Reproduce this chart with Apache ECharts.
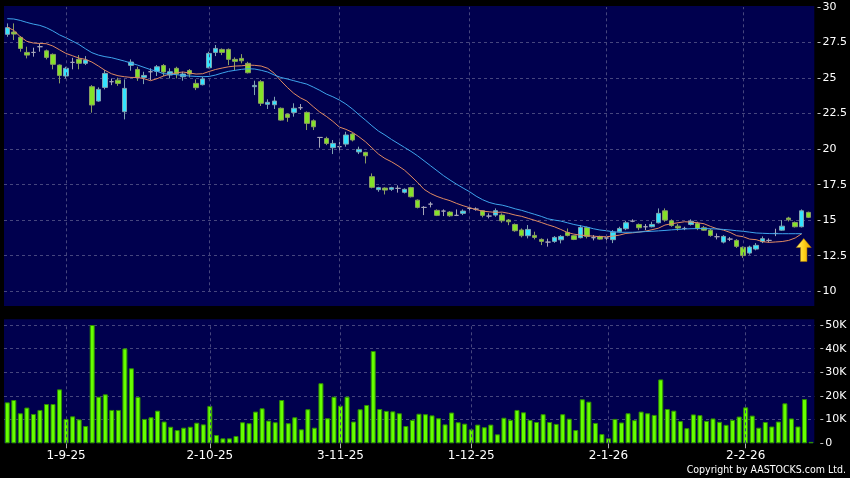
<!DOCTYPE html>
<html><head><meta charset="utf-8">
<script src="https://cdn.jsdelivr.net/npm/echarts@6/dist/echarts.min.js"></script>
<style>html,body{margin:0;padding:0;background:#000;}#c{width:850px;height:478px;}</style>
</head><body><div id="c"></div>
<script>
const dates = [
'19-8-25','20-8-25','21-8-25','22-8-25','25-8-25','26-8-25','27-8-25','28-8-25','29-8-25',
'1-9-25','2-9-25','3-9-25','4-9-25','5-9-25','8-9-25','9-9-25','10-9-25','11-9-25','12-9-25','15-9-25','16-9-25','17-9-25','18-9-25','19-9-25','22-9-25','23-9-25','24-9-25','25-9-25','26-9-25','29-9-25','30-9-25',
'2-10-25','3-10-25','6-10-25','8-10-25','9-10-25','10-10-25','13-10-25','14-10-25','15-10-25','16-10-25','17-10-25','20-10-25','21-10-25','22-10-25','23-10-25','24-10-25','27-10-25','28-10-25','30-10-25','31-10-25',
'3-11-25','4-11-25','5-11-25','6-11-25','7-11-25','10-11-25','11-11-25','12-11-25','13-11-25','14-11-25','17-11-25','18-11-25','19-11-25','20-11-25','21-11-25','24-11-25','25-11-25','26-11-25','27-11-25','28-11-25',
'1-12-25','2-12-25','3-12-25','4-12-25','5-12-25','8-12-25','9-12-25','10-12-25','11-12-25','12-12-25','15-12-25','16-12-25','17-12-25','18-12-25','19-12-25','22-12-25','23-12-25','24-12-25','29-12-25','30-12-25','31-12-25',
'2-1-26','5-1-26','6-1-26','7-1-26','8-1-26','9-1-26','12-1-26','13-1-26','14-1-26','15-1-26','16-1-26','19-1-26','20-1-26','21-1-26','22-1-26','23-1-26','26-1-26','27-1-26','28-1-26','29-1-26','30-1-26',
'2-2-26','3-2-26','4-2-26','5-2-26','6-2-26','9-2-26','10-2-26','11-2-26','12-2-26','13-2-26','16-2-26'
];
const labelDates = ['1-9-25','2-10-25','3-11-25','1-12-25','2-1-26','2-2-26'];

// [open, close, low, high]
const candles = [
[28.07,28.54,27.90,28.84],[28.23,28.09,27.67,28.84],[27.86,27.08,26.85,27.95],[26.80,26.61,26.38,27.20],[26.80,26.80,26.50,27.13],
[27.20,27.20,26.85,27.43],[26.91,26.45,26.31,27.00],[26.66,25.96,25.61,26.73],[25.91,25.18,24.62,25.95],[25.14,25.68,24.97,25.79],
[26.10,26.10,25.61,26.42],[26.31,26.03,25.61,26.61],[26.03,26.26,25.91,26.54],[24.39,23.10,22.56,24.50],[23.38,24.20,23.33,24.34],
[24.34,25.32,24.20,25.56],[24.74,24.74,24.50,24.97],[24.85,24.62,24.45,25.02],[22.63,24.27,22.09,24.90],[25.89,26.12,25.51,26.31],
[25.60,25.04,24.80,25.79],[25.04,25.18,24.57,25.44],[25.44,25.44,24.85,25.68],[25.47,25.79,25.14,25.91],[25.88,25.42,25.14,25.98],
[25.21,25.44,24.97,25.68],[25.68,25.28,24.97,25.79],[25.09,25.28,24.81,25.44],[25.53,25.28,25.04,25.63],[24.62,24.32,24.15,24.90],
[24.53,24.93,24.48,25.09],[25.72,26.73,25.68,26.85],[26.80,27.08,26.54,27.32],[27.01,26.80,26.61,27.08],[27.01,26.31,25.91,27.08],
[26.31,26.17,25.56,26.45],[26.38,26.21,26.03,26.68],[26.03,25.37,25.32,26.14],[24.39,24.48,23.80,24.81],[24.74,23.22,23.03,24.85],
[23.15,23.29,22.82,23.50],[23.12,23.38,22.82,23.68],[22.87,22.04,22.00,22.93],[22.46,22.23,21.92,22.51],[22.58,22.87,22.28,23.22],
[22.91,22.91,22.75,23.17],[22.58,21.81,21.34,22.65],[21.99,21.57,21.34,22.09],[20.82,20.82,20.10,20.82],[20.75,20.40,20.28,20.87],
[20.10,20.40,19.65,20.64],[20.17,20.17,19.75,20.52],[20.35,20.99,20.17,21.22],[21.06,20.64,20.54,21.15],[19.80,19.98,19.65,20.17],
[19.77,19.53,18.99,19.81],[18.06,17.31,17.24,18.29],[17.15,17.29,17.00,17.35],[17.26,17.12,16.81,17.31],[17.17,17.29,17.06,17.35],
[17.24,17.24,16.94,17.45],[16.96,17.17,16.88,17.24],[17.29,16.65,16.60,17.35],[16.41,15.90,15.83,16.46],[15.90,15.90,15.36,15.99],
[16.13,16.13,15.90,16.29],[15.69,15.34,15.29,15.76],[15.64,15.64,15.29,15.76],[15.57,15.31,15.24,15.64],[15.34,15.34,15.29,15.76],
[15.48,15.64,15.36,15.76],[15.83,15.83,15.60,15.95],[15.78,15.78,15.67,15.90],[15.67,15.34,15.20,15.71],[15.29,15.29,15.13,15.48],
[15.36,15.67,15.24,15.83],[15.36,14.96,14.82,15.48],[15.01,14.89,14.65,15.08],[14.70,14.26,14.19,14.77],[14.31,13.91,13.79,14.42],
[13.91,14.35,13.72,14.66],[13.93,13.79,13.65,14.19],[13.65,13.51,13.25,13.72],[13.46,13.46,13.14,13.70],[13.51,13.79,13.41,13.88],
[13.62,13.86,13.37,13.95],[14.14,13.93,13.86,14.42],[13.91,13.65,13.60,13.95],[13.77,14.49,13.72,14.66],[14.49,13.86,13.72,14.56],
[13.77,13.77,13.58,13.96],[13.86,13.67,13.63,13.91],[13.75,13.75,13.58,13.98],[13.63,14.16,13.39,14.30],[14.19,14.42,14.14,14.54],
[14.40,14.82,14.30,14.96],[14.93,14.93,14.86,15.06],[14.70,14.47,14.30,14.77],[14.54,14.54,14.30,14.73],[14.54,14.70,14.49,14.89],
[14.82,15.48,14.77,15.83],[15.66,15.01,14.89,15.83],[14.96,14.63,14.54,15.06],[14.58,14.45,14.26,14.73],[14.42,14.42,14.30,14.54],
[14.70,14.93,14.63,15.06],[14.77,14.42,14.30,14.89],[14.47,14.30,14.26,14.59],[14.30,13.93,13.84,14.40],[13.84,13.84,13.65,14.07],
[13.46,13.86,13.37,13.95],[13.67,13.67,13.53,13.81],[13.58,13.16,13.05,13.67],[13.09,12.51,12.35,13.16],[12.69,13.11,12.58,13.21],
[12.97,13.23,12.88,13.39],[13.49,13.70,13.39,13.86],[13.58,13.58,13.44,13.72],[14.07,14.07,13.88,14.40],[14.30,14.58,14.26,15.01],
[15.15,15.03,14.91,15.24],[14.84,14.54,14.49,14.91],[14.54,15.66,14.49,15.76],[15.55,15.20,15.15,15.60]
];

// volume in thousands of shares
const volumesK = [
17.3,18.3,12.7,15.1,12.4,14.1,16.6,16.6,22.8,10.3,11.4,10.1,7.3,50.0,19.7,20.7,14.1,14.1,40.1,31.7,19.6,10.3,11.0,13.8,9.2,
7.0,5.6,6.6,7.0,8.7,8.0,15.8,3.5,2.1,2.1,3.1,8.9,8.5,13.4,14.8,9.6,8.9,18.3,8.5,11.0,5.9,14.4,6.6,25.4,10.6,19.7,
15.9,19.7,9.2,14.4,16.2,39.0,
14.5,13.7,13.5,12.7,7.3,9.9,12.5,12.3,11.8,10.6,8.0,13.0,8.9,8.3,5.9,7.9,6.8,7.9,
3.8,10.8,9.9,14.1,13.1,9.9,9.0,12.3,9.0,8.2,12.3,10.4,5.6,18.6,17.6,8.6,3.9,2.1,
10.3,8.8,12.7,9.8,13.4,12.7,12.0,27.0,14.5,13.8,9.4,6.4,12.2,11.9,9.5,10.5,9.1,7.8,9.9,11.3,15.2,11.7,6.6,9.0,7.1,9.2,16.9,10.5,7.1,18.7,0.6
];

const maShort = [
28.58,28.35,27.90,27.58,27.46,27.43,27.41,27.25,26.99,26.73,26.57,26.40,26.31,26.12,25.84,25.54,25.30,25.16,25.09,25.04,25.04,24.95,24.81,24.95,25.14,
25.28,25.37,25.42,25.35,25.28,25.30,25.46,25.60,25.70,25.79,25.84,25.86,25.91,25.89,25.84,25.68,25.33,24.81,24.34,23.92,23.61,23.38,22.98,22.60,22.30,21.95,
21.55,21.39,21.18,20.87,20.52,20.09,19.65,19.34,19.11,18.83,18.52,18.10,17.66,17.17,16.88,16.67,16.51,16.37,16.18,16.02,15.88,15.74,15.64,15.59,15.55,
15.57,15.48,15.36,15.27,15.13,14.99,14.84,14.68,14.54,14.35,14.14,14.02,13.95,13.91,13.88,13.84,13.84,13.88,13.95,14.07,14.11,14.16,14.23,14.33,14.44,
14.66,14.75,14.82,14.89,14.87,14.82,14.75,14.56,14.40,14.30,14.14,13.91,13.84,13.67,13.63,13.49,13.44,13.47,13.50,13.58,13.75,14.05,null
];
const maLong = [
29.17,29.15,29.05,28.91,28.79,28.70,28.54,28.31,28.04,27.83,27.60,27.36,27.06,26.78,26.61,26.50,26.43,26.31,26.19,26.05,25.91,25.75,25.59,25.47,25.30,
25.28,25.23,25.18,25.14,25.11,25.09,25.11,25.21,25.35,25.47,25.54,25.61,25.65,25.63,25.54,25.42,25.21,25.04,24.93,24.81,24.69,24.57,24.36,24.13,23.87,23.68,
23.45,23.17,22.82,22.42,22.04,21.64,21.27,20.99,20.68,20.40,20.12,19.84,19.53,19.18,18.83,18.48,18.13,17.82,17.53,17.26,17.00,16.69,16.44,16.25,16.13,
16.06,15.94,15.80,15.69,15.55,15.41,15.27,15.10,15.01,14.94,14.82,14.70,14.61,14.52,14.40,14.31,14.26,14.19,14.15,14.15,14.15,14.17,14.20,14.22,14.25,
14.28,14.32,14.35,14.38,14.40,14.41,14.41,14.40,14.38,14.35,14.31,14.26,14.22,14.16,14.10,14.08,14.06,14.05,14.05,14.05,14.05,14.05,null
];

const priceAxis = {min: 10, max: 30, step: 2.5};
const volAxis = {min: 0, max: 50000, step: 10000};
const arrowPrice = 12.9;

const volumes = volumesK.map(v => Math.round(v * 1000));
const FONT = 'DejaVu Sans';
const gridColor = '#46467e';
const vLines = {
  symbol: ['none', 'none'], silent: true, animation: false,
  label: {show: false},
  lineStyle: {color: gridColor, type: [3, 3], width: 1},
  data: labelDates.map(d => ({xAxis: d}))
};
const isLabel = (idx, val) => labelDates.indexOf(val) >= 0;

const chart = echarts.init(document.getElementById('c'), null, {renderer: 'canvas'});
chart.setOption({
  animation: false,
  backgroundColor: '#000000',
  graphic: [
    {type: 'rect', z: -100, silent: true, shape: {x: 4, y: 6, width: 810.3, height: 300}, style: {fill: '#00004e'}},
    {type: 'rect', z: -100, silent: true, shape: {x: 4, y: 319.3, width: 810.3, height: 124}, style: {fill: '#00004e'}},
    {type: 'text', right: 4, top: 465, scaleX: 0.86, originX: 846, style: {text: 'Copyright by AASTOCKS.com Ltd.', fill: '#ffffff', font: '11px "DejaVu Sans"'}}
  ],
  grid: [
    {left: 4, right: 35.7, top: 6.9, height: 284.4},
    {left: 4, right: 35.7, top: 325, height: 118.3}
  ],
  xAxis: [
    {type: 'category', gridIndex: 0, data: dates, boundaryGap: true,
     axisLine: {show: false}, axisTick: {show: false}, axisLabel: {show: false}, splitLine: {show: false}},
    {type: 'category', gridIndex: 1, data: dates, boundaryGap: true,
     axisLine: {show: false},
     axisTick: {show: true, alignWithLabel: true, interval: isLabel, length: 5, lineStyle: {color: '#b0b0b0'}},
     axisLabel: {show: true, interval: isLabel, color: '#ffffff', fontFamily: FONT, fontSize: 12, margin: 7},
     splitLine: {show: false}}
  ],
  yAxis: [
    {type: 'value', gridIndex: 0, position: 'right', min: priceAxis.min, max: priceAxis.max, interval: priceAxis.step, offset: 6,
     axisLine: {show: false}, axisTick: {show: true, length: 3, lineStyle: {color: '#c0c0c0'}},
     axisLabel: {color: '#ffffff', fontFamily: FONT, fontSize: 11, margin: 5},
     splitLine: {show: true, showMaxLine: false, lineStyle: {color: gridColor, type: [3, 3], width: 1}}},
    {type: 'value', gridIndex: 1, position: 'right', min: volAxis.min, max: volAxis.max, interval: volAxis.step, offset: 6,
     axisLine: {show: false}, axisTick: {show: true, length: 3, lineStyle: {color: '#c0c0c0'}},
     axisLabel: {color: '#ffffff', fontFamily: FONT, fontSize: 11, margin: 5,
       formatter: v => v === 0 ? '0' : (v / 1000) + 'K'},
     splitLine: {show: true, showMinLine: false, lineStyle: {color: gridColor, type: [3, 3], width: 1}}}
  ],
  series: [
    {type: 'candlestick', name: 'price', xAxisIndex: 0, yAxisIndex: 0, data: candles, barWidth: 5,
     itemStyle: {color: '#33e4ff', color0: '#84e228', borderColor: '#7fa4b0', borderColor0: '#8a9e62', borderColorDoji: '#a6a6b8', borderWidth: 1},
     markLine: vLines,
     markPoint: {
       symbol: 'path://M7,0 L14,9 L10,9 L10,23 L4,23 L4,9 L0,9 Z',
       symbolSize: [15, 23], symbolOffset: [-4.5, 0], silent: true,
       label: {show: false},
       itemStyle: {
         color: new echarts.graphic.LinearGradient(0, 0, 1, 0, [{offset: 0, color: '#fff07a'}, {offset: 0.5, color: '#ffd21a'}, {offset: 1, color: '#e09a00'}]),
         borderColor: '#b07a00', borderWidth: 0.5
       },
       data: [{coord: [dates[dates.length - 1], arrowPrice]}]
     }},
    {type: 'line', name: 'MA short', xAxisIndex: 0, yAxisIndex: 0, data: maShort, showSymbol: false, symbol: 'none',
     lineStyle: {color: '#e08a62', width: 1}, z: 3},
    {type: 'line', name: 'MA long', xAxisIndex: 0, yAxisIndex: 0, data: maLong, showSymbol: false, symbol: 'none',
     lineStyle: {color: '#3ea4ec', width: 1}, z: 3},
    {type: 'bar', name: 'volume', xAxisIndex: 1, yAxisIndex: 1, data: volumes, barWidth: 5,
     itemStyle: {color: '#66ff00', borderColor: '#2f8f00', borderWidth: 1},
     markLine: vLines}
  ]
});
</script>
</body></html>
